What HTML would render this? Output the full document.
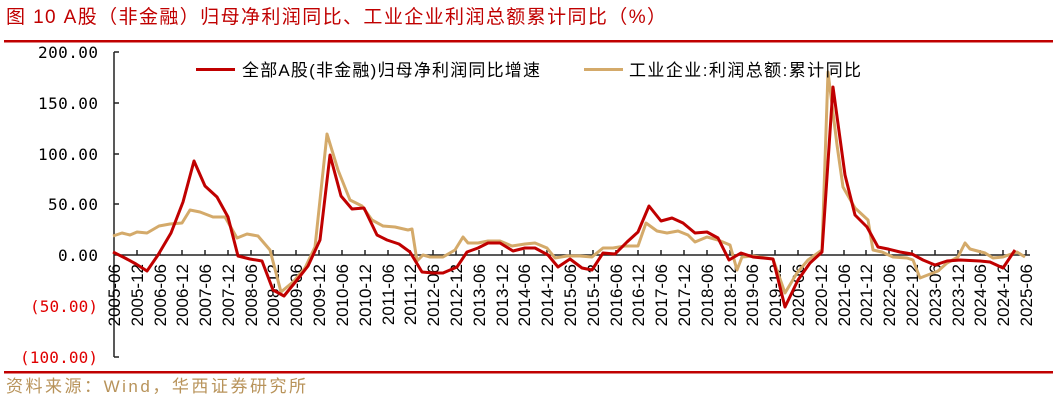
<!DOCTYPE html>
<html><head><meta charset="utf-8"><style>
body{margin:0;background:#fff;width:1053px;height:402px;overflow:hidden}
</style></head><body>
<svg width="1053" height="402" xmlns="http://www.w3.org/2000/svg" font-family="'Liberation Sans','Noto Sans CJK SC',sans-serif">
<text x="6" y="23" font-size="19" fill="#c00000" textLength="660" lengthAdjust="spacing">图 10 A股（非金融）归母净利润同比、工业企业利润总额累计同比（%）</text>
<rect x="4" y="40" width="1049" height="2.5" fill="#c00000"/>
<rect x="4" y="371" width="1049" height="2.5" fill="#c00000"/>
<text x="6" y="392" font-size="17" fill="#b8935a" textLength="300" lengthAdjust="spacing">资料来源：Wind，华西证券研究所</text>
<g font-size="16" text-anchor="end" font-family="'DejaVu Sans Mono','Liberation Mono',monospace">
<text x="98" y="58" fill="#000" textLength="60">200.00</text>
<text x="98" y="109" fill="#000" textLength="60">150.00</text>
<text x="98" y="160" fill="#000" textLength="60">100.00</text>
<text x="98" y="210" fill="#000" textLength="50">50.00</text>
<text x="98" y="261" fill="#000" textLength="40">0.00</text>
<text x="98" y="312" fill="#e00000" textLength="68">(50.00)</text>
<text x="98" y="363" fill="#e00000" textLength="78">(100.00)</text>
</g>
<g stroke="#222" stroke-width="1.5" fill="none">
<path d="M114 52V357M114 52h5M114 103h5M114 154h5M114 204h5M114 306h5M114 357h5"/>
<path d="M114 255H1030"/>
<path d="M137 250v5M160 250v5M182 250v5M205 250v5M228 250v5M251 250v5M273 250v5M296 250v5M319 250v5M342 250v5M365 250v5M388 250v5M410 250v5M433 250v5M456 250v5M479 250v5M502 250v5M524 250v5M547 250v5M570 250v5M593 250v5M616 250v5M638 250v5M661 250v5M684 250v5M707 250v5M730 250v5M752 250v5M775 250v5M798 250v5M821 250v5M844 250v5M866 250v5M889 250v5M912 250v5M935 250v5M958 250v5M980 250v5M1003 250v5M1026 250v5"/>
</g>
<g font-size="17" fill="#000" text-anchor="end">
<text transform="translate(120,264) rotate(-90)">2005-06</text>
<text transform="translate(143,264) rotate(-90)">2005-12</text>
<text transform="translate(166,264) rotate(-90)">2006-06</text>
<text transform="translate(188,264) rotate(-90)">2006-12</text>
<text transform="translate(211,264) rotate(-90)">2007-06</text>
<text transform="translate(234,264) rotate(-90)">2007-12</text>
<text transform="translate(257,264) rotate(-90)">2008-06</text>
<text transform="translate(279,264) rotate(-90)">2008-12</text>
<text transform="translate(302,264) rotate(-90)">2009-06</text>
<text transform="translate(325,264) rotate(-90)">2009-12</text>
<text transform="translate(348,264) rotate(-90)">2010-06</text>
<text transform="translate(371,264) rotate(-90)">2010-12</text>
<text transform="translate(394,264) rotate(-90)">2011-06</text>
<text transform="translate(416,264) rotate(-90)">2011-12</text>
<text transform="translate(439,264) rotate(-90)">2012-06</text>
<text transform="translate(462,264) rotate(-90)">2012-12</text>
<text transform="translate(485,264) rotate(-90)">2013-06</text>
<text transform="translate(508,264) rotate(-90)">2013-12</text>
<text transform="translate(530,264) rotate(-90)">2014-06</text>
<text transform="translate(553,264) rotate(-90)">2014-12</text>
<text transform="translate(576,264) rotate(-90)">2015-06</text>
<text transform="translate(599,264) rotate(-90)">2015-12</text>
<text transform="translate(622,264) rotate(-90)">2016-06</text>
<text transform="translate(644,264) rotate(-90)">2016-12</text>
<text transform="translate(667,264) rotate(-90)">2017-06</text>
<text transform="translate(690,264) rotate(-90)">2017-12</text>
<text transform="translate(713,264) rotate(-90)">2018-06</text>
<text transform="translate(736,264) rotate(-90)">2018-12</text>
<text transform="translate(758,264) rotate(-90)">2019-06</text>
<text transform="translate(781,264) rotate(-90)">2019-12</text>
<text transform="translate(804,264) rotate(-90)">2020-06</text>
<text transform="translate(827,264) rotate(-90)">2020-12</text>
<text transform="translate(850,264) rotate(-90)">2021-06</text>
<text transform="translate(872,264) rotate(-90)">2021-12</text>
<text transform="translate(895,264) rotate(-90)">2022-06</text>
<text transform="translate(918,264) rotate(-90)">2022-12</text>
<text transform="translate(941,264) rotate(-90)">2023-06</text>
<text transform="translate(964,264) rotate(-90)">2023-12</text>
<text transform="translate(986,264) rotate(-90)">2024-06</text>
<text transform="translate(1009,264) rotate(-90)">2024-12</text>
<text transform="translate(1032,264) rotate(-90)">2025-06</text>
</g>
<polyline fill="none" stroke="#d4aa6a" stroke-width="3" stroke-linejoin="round" points="113,236 122,233 130,235 137,232 147,233 159,226 170,224 182,223 190,210 200,212 213,217 225,217 237,238 247,234 258,236 270,250 281,292 293,282 305,268 315,247 327,134 338,170 350,200 362,206 372,220 383,226 395,227 408,230 412,229 417,261 423,255 430,257 443,257 455,250 463,237 468,243 478,243 488,241 500,241 512,246 525,244 535,243 547,248 555,258 567,256 580,256 592,257 603,248 613,248 625,246 638,246 646,223 657,231 667,233 678,231 688,235 695,242 707,237 718,240 730,245 737,270 742,257 753,256 773,259 785,293 797,273 808,260 822,250 828,72 837,145 843,187 855,208 868,220 873,250 882,252 893,257 907,258 913,260 920,278 938,271 947,263 958,257 965,243 970,249 985,253 993,258 1003,257 1017,252 1025,257"/>
<polyline fill="none" stroke="#c00000" stroke-width="3" stroke-linejoin="round" points="113,252 125,258 136,264 147,271 158,255 171,233 183,202 194,161 205,186 217,197 228,217 238,256 250,259 262,261 273,290 284,296 297,280 308,266 320,240 330,155 341,196 352,209 364,208 377,235 387,240 399,244 410,252 422,272 433,273 443,273 457,267 467,252 478,248 488,243 500,243 513,251 525,248 535,248 548,255 558,267 570,259 582,268 592,270 603,253 615,254 627,242 638,232 649,206 661,221 672,218 683,223 695,233 707,232 718,238 729,260 741,253 753,257 773,259 785,307 798,280 810,263 822,252 833,87 845,175 855,215 867,227 878,247 888,249 900,252 912,254 923,260 935,265 947,261 960,260 980,261 990,262 1003,268 1015,250"/>
<rect x="196" y="68" width="39" height="3" fill="#c00000"/>
<text x="242" y="76" font-size="17" fill="#000" textLength="298" lengthAdjust="spacing">全部A股(非金融)归母净利润同比增速</text>
<rect x="584" y="68" width="39" height="3" fill="#d4aa6a"/>
<text x="629" y="76" font-size="17" fill="#000" textLength="232" lengthAdjust="spacing">工业企业:利润总额:累计同比</text>
</svg>
</body></html>
